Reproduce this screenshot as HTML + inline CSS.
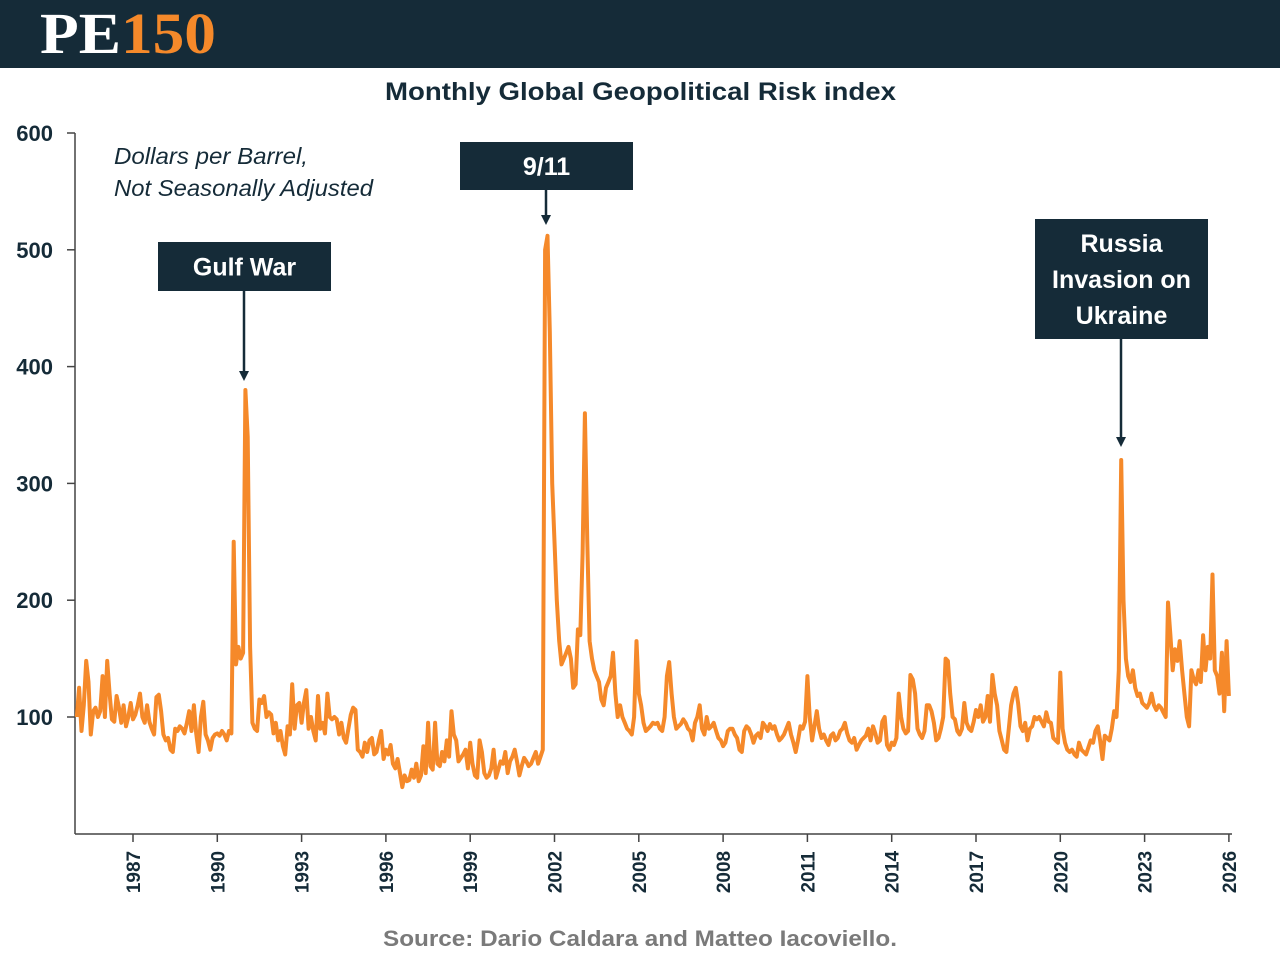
<!DOCTYPE html>
<html><head><meta charset="utf-8"><style>
body{margin:0;width:1280px;height:960px;background:#fff;overflow:hidden;font-family:"Liberation Sans",sans-serif}
</style></head><body>
<svg width="1280" height="960">
<rect x="0" y="0" width="1280" height="68" fill="#152b38"/>
<text x="40" y="53" font-family="Liberation Serif" font-weight="bold" font-size="58" fill="#fff" textLength="176" lengthAdjust="spacingAndGlyphs">PE<tspan fill="#f5892a">150</tspan></text>
<text x="385" y="100" font-weight="bold" font-size="25" fill="#152b38" textLength="511" lengthAdjust="spacingAndGlyphs">Monthly Global Geopolitical Risk index</text>
<g id="axes"></g>
<path id="line" fill="none" stroke="#f5892a" stroke-width="4" stroke-linejoin="round"/>
<text x="114" y="164" font-style="italic" font-size="23" fill="#152b38" textLength="194" lengthAdjust="spacingAndGlyphs">Dollars per Barrel,</text>
<text x="114" y="196" font-style="italic" font-size="23" fill="#152b38" textLength="259" lengthAdjust="spacingAndGlyphs">Not Seasonally Adjusted</text>
<g id="ann"></g>
<text x="383" y="946" font-weight="bold" font-size="22" fill="#7a7a7a" textLength="514" lengthAdjust="spacingAndGlyphs">Source: Dario Caldara and Matteo Iacoviello.</text>
</svg>
<script>
const yTicks=[100,200,300,400,500,600];
const xTicks=[1987,1990,1993,1996,1999,2002,2005,2008,2011,2014,2017,2020,2023,2026];
const startYear=1985;
const values=[
100,125,88,110,148,130,85,105,108,100,105,135,
100,148,120,98,96,118,108,95,110,92,100,112,
98,102,110,120,100,95,110,96,90,85,117,119,
105,85,80,82,72,70,90,88,92,90,86,95,
105,88,110,86,70,100,113,85,80,72,82,85,
86,84,88,85,80,88,86,250,145,160,150,155,
380,340,160,95,90,88,115,112,118,100,104,102,
86,95,80,88,75,68,92,85,128,90,110,112,
95,112,123,90,100,88,80,118,90,95,86,120,
100,98,100,98,85,95,82,78,90,102,108,106,
72,70,66,78,70,80,82,68,70,80,88,64,
72,68,76,60,56,64,52,40,50,45,46,55,
48,60,45,50,75,52,95,58,55,95,60,58,
70,62,80,66,105,85,80,62,65,68,72,56,
78,60,50,48,80,70,52,48,50,56,72,48,
55,62,60,70,52,62,66,72,62,50,58,65,
62,58,60,65,70,60,66,72,500,512,430,300,
250,200,165,145,150,155,160,150,125,128,175,170,
240,360,250,165,150,140,135,130,115,110,125,130,
135,155,120,100,110,100,95,90,88,85,100,165,
120,110,95,88,90,92,95,94,95,90,88,100,
135,147,120,100,90,92,94,98,95,90,88,80,
95,100,110,90,85,100,90,92,95,88,82,80,
75,78,88,90,90,85,82,72,70,88,92,90,
85,78,84,86,82,95,92,88,94,90,92,85,
80,82,85,90,95,85,78,70,80,92,90,96,
135,100,80,92,105,90,82,85,80,76,84,86,
80,82,88,90,95,86,80,78,82,72,76,80,
82,84,90,80,92,86,78,80,96,100,76,72,
78,76,82,120,100,90,86,88,136,132,120,90,
85,82,88,110,110,105,95,80,82,90,100,150,
148,120,100,98,88,85,90,112,95,90,88,96,
106,100,110,96,100,118,96,136,120,110,88,80,
72,70,90,110,120,125,112,92,88,95,80,90,
92,100,98,100,96,92,104,96,95,82,80,78,
138,90,78,72,70,72,68,66,78,72,70,68,
74,80,78,88,92,80,64,84,82,80,90,105,
100,140,320,200,150,135,130,140,125,118,120,112,
110,108,112,120,110,106,110,108,104,100,198,170,
140,158,148,165,140,120,100,92,140,132,128,140,
130,170,140,160,150,222,140,135,120,155,105,165,
118];
const X=t=>76.8+(t-1985)*28.1;
const Y=v=>833.8-v*1.168;
const NS="http://www.w3.org/2000/svg";
const ax=document.getElementById('axes');
function mk(tag,attrs,parent,txt){const e=document.createElementNS(NS,tag);for(const k in attrs)e.setAttribute(k,attrs[k]);if(txt!==undefined)e.textContent=txt;parent.appendChild(e);return e;}
let e=mk('line',{x1:75,y1:133,x2:75,y2:834,stroke:'#444','stroke-width':1.5},ax);


e=mk('line',{x1:75,y1:834,x2:1232,y2:834,stroke:'#444','stroke-width':1.5},ax);


yTicks.forEach(v=>{
 mk('line',{x1:67,x2:75,y1:Y(v),y2:Y(v),stroke:'#444','stroke-width':1.5},ax);
 const t=mk('text',{x:53,y:Y(v)+8,'text-anchor':'end','font-weight':'bold','font-size':22,fill:'#152b38'},ax,String(v));
 
 
});
xTicks.forEach(yr=>{
 const x=X(yr);
 mk('line',{x1:x,x2:x,y1:834,y2:842,stroke:'#444','stroke-width':1.5},ax);
 const t=mk('text',{x:0,y:0,transform:`translate(${x+7},872) rotate(-90)`,'text-anchor':'middle','font-weight':'bold','font-size':19,fill:'#152b38'},ax,String(yr));
 
 
});
document.getElementById('line').setAttribute('d',values.map((v,i)=>(i?'L':'M')+X(startYear+i/12).toFixed(1)+','+Y(v).toFixed(1)).join(''));
const ann=document.getElementById('ann');
function box(x,y,w,h,lines,ax1,ay1,ay2,name){
 const g=mk('g',{},ann);
 
 
 mk('rect',{x,y,width:w,height:h,fill:'#152b38'},g);
 const step=36,top=y+h/2-step*(lines.length-1)/2;
 lines.forEach((l,i)=>mk('text',{x:x+w/2,y:top+step*i+9,'text-anchor':'middle','font-weight':'bold','font-size':25,fill:'#fff'},g,l));
 mk('line',{x1:ax1,x2:ax1,y1:ay1,y2:ay2-8,stroke:'#152b38','stroke-width':2.5},g);
 mk('path',{d:`M${ax1-5},${ay2-10}L${ax1+5},${ay2-10}L${ax1},${ay2}Z`,fill:'#152b38'},g);
}
box(158,242,173,49,['Gulf War'],244,291,381,'annotation-gulf-war');
box(460,142,173,48,['9/11'],546,190,225,'annotation-911');
box(1035,219,173,120,['Russia','Invasion on','Ukraine'],1121,339,447,'annotation-russia-ukraine');
</script>
</body></html>
